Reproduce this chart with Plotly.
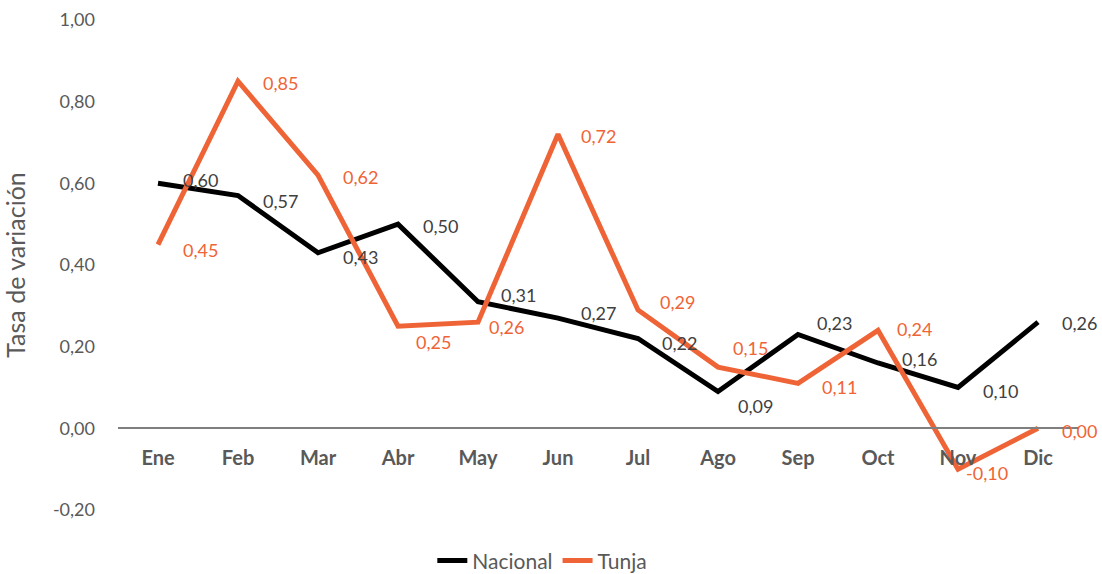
import plotly.graph_objects as go

months = ["Ene", "Feb", "Mar", "Abr", "May", "Jun", "Jul", "Ago", "Sep", "Oct", "Nov", "Dic"]
nacional = [0.60, 0.57, 0.43, 0.50, 0.31, 0.27, 0.22, 0.09, 0.23, 0.16, 0.10, 0.26]
tunja = [0.45, 0.85, 0.62, 0.25, 0.26, 0.72, 0.29, 0.15, 0.11, 0.24, -0.10, 0.00]
y_ticks = [-0.2, 0.0, 0.2, 0.4, 0.6, 0.8, 1.0]

# label offsets in pixels (style only)
nac_off = [(42, 3), (42, -5), (42, -4), (42, -2), (40, 7), (40, 5), (41, -4), (37, -14), (36, 11), (41, 4), (42, -3), (41, -1)]
tun_off = [(42, -5), (42, -2), (42, -2), (35, -16), (28, -5), (40, -2), (39, 8), (32, 19), (41, -4), (36, 1), (29, -4), (41, -3)]

BLACK = "#000000"
ORANGE = "#EF6436"
GREY = "#595959"
FONT = "Lato"


def fmt(v):
    return f"{v:.2f}".replace(".", ",")


fig = go.Figure()
fig.add_trace(go.Scatter(x=months, y=nacional, mode="lines", name="Nacional",
                         line=dict(color=BLACK, width=5)))
fig.add_trace(go.Scatter(x=months, y=tunja, mode="lines", name="Tunja",
                         line=dict(color=ORANGE, width=5)))

ann = []
for m, v, (dx, dy) in zip(months, nacional, nac_off):
    ann.append(dict(x=m, y=v, text=fmt(v), showarrow=False, xshift=dx, yshift=dy,
                    font=dict(family=FONT, size=18, color="#404040")))
for m, v, (dx, dy) in zip(months, tunja, tun_off):
    ann.append(dict(x=m, y=v, text=fmt(v), showarrow=False, xshift=dx, yshift=dy,
                    font=dict(family=FONT, size=18, color=ORANGE)))

fig.update_layout(
    width=1102, height=574,
    margin=dict(l=118, r=24, t=20, b=64, autoexpand=False),
    paper_bgcolor="white", plot_bgcolor="white",
    font=dict(family=FONT, color=GREY),
    annotations=ann,
    showlegend=True,
    legend=dict(orientation="h", x=0.442, xanchor="center", y=-0.104, yanchor="middle",
                font=dict(family=FONT, size=21, color=GREY)),
    xaxis=dict(anchor="free", position=0.2 / 1.2, showline=True, linecolor="#7f7f7f",
               linewidth=1.5, showgrid=False, zeroline=False, ticks="", automargin=False,
               ticklabelstandoff=12, range=[-0.5, 11.5],
               tickfont=dict(family=FONT, size=20, color=GREY, weight="bold")),
    yaxis=dict(range=[-0.2, 1.0], tickvals=y_ticks, ticktext=[fmt(v) for v in y_ticks],
               showgrid=False, zeroline=False, showline=False, ticks="", automargin=False,
               ticklabelstandoff=22,
               tickfont=dict(family=FONT, size=18, color=GREY),
               title=dict(text="Tasa de variación", font=dict(family=FONT, size=25, color=GREY),
                          standoff=21)),
)

fig.write_html("out.html", config={"displayModeBar": False},
               post_script="document.body.style.margin='0px';document.body.style.overflow='hidden';")
